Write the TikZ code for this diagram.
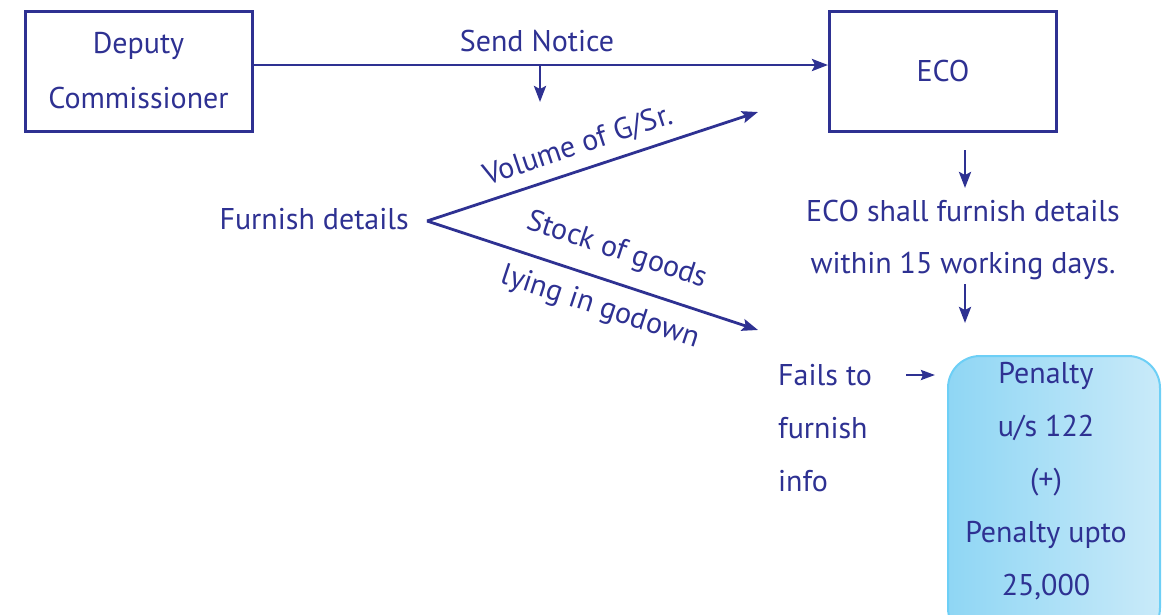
\documentclass[tikz,border=0pt]{standalone}
\usepackage{fontspec}
\setmainfont{PT Sans}
\usetikzlibrary{arrows.meta}
\definecolor{ink}{HTML}{2E3192}
\definecolor{boxedge}{HTML}{6DCFF6}
\definecolor{boxleft}{HTML}{8FD6F4}
\definecolor{boxright}{HTML}{C9EAF9}
\tikzset{
  txt/.style={text=ink, font=\fontsize{30}{30}\selectfont, inner sep=0pt},
  conn/.style={draw=ink, line width=2.8pt, -{Stealth[length=16pt,width=12pt,inset=3pt]}},
  sq/.style={draw=ink, line width=3pt, minimum width=227pt, minimum height=120pt, inner sep=0pt}
}
\begin{document}
\begin{tikzpicture}[x=1pt,y=-1pt]
\useasboundingbox (0,0) rectangle (1163,614);
% boxes
\node[sq] (dc) at (138.5,71) {};
\node[txt] (dct1) at (138.5,46) {Deputy};
\node[txt] (dct2) at (138.5,98) {Commissioner};
\node[sq] (eco) at (943,71) {};
\node[txt] (ecot) at (943,71) {ECO};
% main arrow
\draw[conn] ([yshift=6pt]dc.east) -- ([yshift=6pt]eco.west);
\node[txt] (send) at (537,41) {Send Notice};
\coordinate (s1) at (540,65);
\coordinate (s2) at (540,102);
\draw[conn] (s1) -- (s2);
% furnish details
\node[txt, anchor=east] (fd) at (409,219) {Furnish details};
\coordinate (apex) at (427,221);
\coordinate (up) at (758,112);
\coordinate (dn) at (758,330);
\draw[conn] (apex) -- (up);
\draw[conn] (apex) -- (dn);
\node[txt, rotate=18.3] (vol) at (578,146) {Volume of G/Sr.};
\node[txt, rotate=-18.3] (stock) at (617,251) {Stock of goods};
\node[txt, rotate=-18.3] (lying) at (600,308) {lying in godown};
% ECO column
\coordinate (e1) at (965,150);
\coordinate (e2) at (965,188);
\draw[conn] (e1) -- (e2);
\node[txt] (sh1) at (963,211) {ECO shall furnish details};
\node[txt] (sh2) at (963,266) {within 15 working days.};
\coordinate (e3) at (965,284);
\coordinate (e4) at (965,323);
\draw[conn] (e3) -- (e4);
% fails
\node[txt, anchor=west] (f1) at (778,375) {Fails to};
\node[txt, anchor=west] (f2) at (778,428) {furnish};
\node[txt, anchor=west] (f3) at (778,481) {info};
% penalty box
\draw[draw=boxedge, line width=2pt, rounded corners=32pt, left color=boxleft, right color=boxright]
  (948,356) rectangle (1160,640);
\coordinate (fa) at (906,375);
\coordinate (fb) at (935,375);
\draw[draw=ink, line width=2.5pt, -{Stealth[length=14pt,width=10pt,inset=2pt]}] (fa) -- (fb);
\node[txt] (p1) at (1046,376) {Penalty};
\node[txt] (p2) at (1046,428) {u/s 122};
\node[txt] (p3) at (1046,482) {(+)};
\node[txt] (p4) at (1046,535) {Penalty upto};
\node[txt] (p5) at (1046,587) {25,000};
\end{tikzpicture}
\end{document}
